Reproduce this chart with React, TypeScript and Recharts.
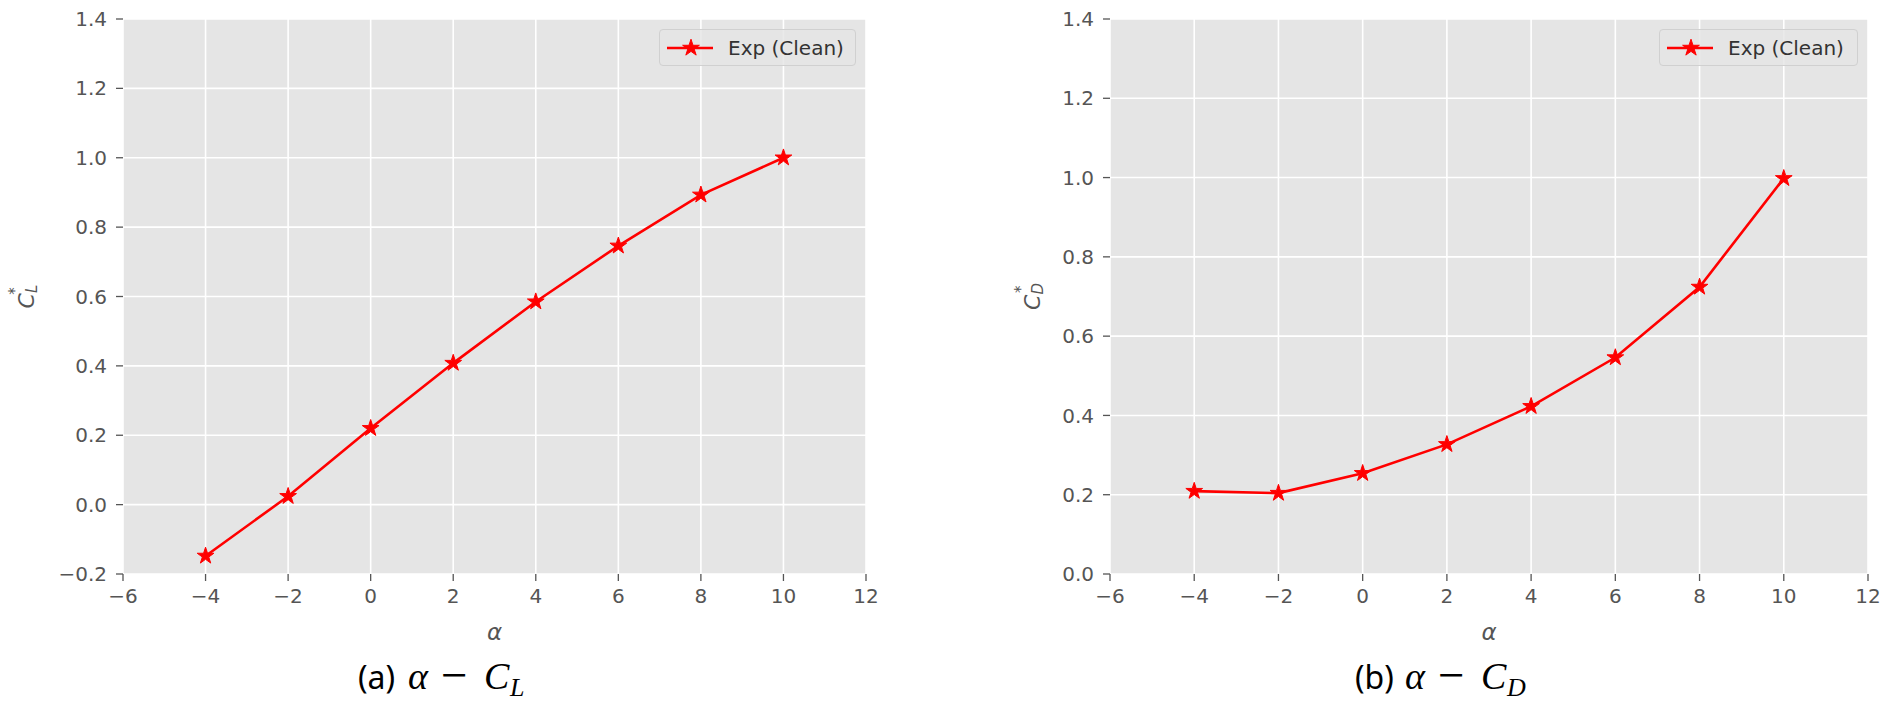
import { CartesianGrid, Legend, Line, LineChart, XAxis, YAxis } from "recharts";

const alpha = [-4, -2, 0, 2, 4, 6, 8, 10];
const liftCoef = [-0.148, 0.024, 0.22, 0.408, 0.585, 0.746, 0.893, 1.0];
const dragCoef = [0.209, 0.204, 0.254, 0.327, 0.423, 0.546, 0.724, 0.998];
const alphaTicks = [-6, -4, -2, 0, 2, 4, 6, 8, 10, 12];
const liftTicks = [-0.2, 0, 0.2, 0.4, 0.6, 0.8, 1.0, 1.2, 1.4];
const dragTicks = [0, 0.2, 0.4, 0.6, 0.8, 1.0, 1.2, 1.4];
const seriesName = "Exp (Clean)";

const RED = "#ff0000";
const TICK = "#555555";
const SANS = "DejaVu Sans";
const SERIF = "Liberation Serif";
const PANEL_W = 946;
const H = 711;

function starPath(cx: number, cy: number, R: number) {
  const r = R * 0.382;
  let d = "";
  for (let i = 0; i < 10; i++) {
    const rad = i % 2 === 0 ? R : r;
    const a = -Math.PI / 2 + (i * Math.PI) / 5;
    d += (i === 0 ? "M" : "L") + (cx + rad * Math.cos(a)).toFixed(2) + "," + (cy + rad * Math.sin(a)).toFixed(2);
  }
  return d + "Z";
}

const minus = (s: string) => s.replace("-", "\u2212");
const fmtX = (v: number) => minus(String(v));
const fmtY = (v: number) => minus(v.toFixed(1));

function Star(props: any) {
  const { cx, cy, index } = props;
  if (cx == null || cy == null) return <g key={index} />;
  return <path key={index} d={starPath(cx, cy, 8.8)} fill={RED} stroke={RED} strokeWidth={1} />;
}

function LegendBox({ payload, width }: any) {
  const label = payload && payload[0] ? payload[0].value : seriesName;
  return (
    <div
      style={{
        width,
        height: 37,
        boxSizing: "border-box",
        border: "1px solid #d0d0d0",
        borderRadius: 4,
        background: "rgba(229,229,229,0.8)",
        display: "flex",
        alignItems: "center",
        fontFamily: SANS,
        fontSize: 20,
        color: "#333",
        whiteSpace: "nowrap",
      }}
    >
      <svg width={68} height={24} style={{ flex: "none" }}>
        <line x1={7} x2={53} y1={12} y2={12} stroke={RED} strokeWidth={2.6} />
        <path d={starPath(31, 12, 8.8)} fill={RED} stroke={RED} strokeWidth={1} />
      </svg>
      <span>{label}</span>
    </div>
  );
}

interface PanelProps {
  values: number[];
  yTicks: number[];
  sub: string;
  tag: string;
  left: number;
  marginLeft: number;
  marginRight: number;
  legendLeft: number;
  legendWidth: number;
  yLabelX: number;
  captionStart: number;
}

function Panel(p: PanelProps) {
  const data = alpha.map((a, i) => ({ alpha: a, value: p.values[i] }));
  const s = p.captionStart;

  const xLabel = (props: any) => {
    const vb = props.viewBox || {};
    const cx = vb.x + vb.width / 2;
    return (
      <g>
        <text x={cx} y={vb.y + 66} textAnchor="middle" fill={TICK} fontFamily={SANS} fontStyle="italic" fontSize={23}>
          α
        </text>
        <text y={689} fill="#000">
          <tspan x={s} fontFamily="Noto Sans" fontSize={32}>({p.tag})</tspan>
          <tspan x={s + 50} fontFamily={SERIF} fontStyle="italic" fontSize={38}>α</tspan>
          <tspan x={s + 83} dy={2} fontFamily={SERIF} fontSize={47}>−</tspan>
          <tspan x={s + 126} dy={-2} fontFamily={SERIF} fontStyle="italic" fontSize={38}>C</tspan>
          <tspan x={s + 152} dy={7} fontFamily={SERIF} fontStyle="italic" fontSize={26}>{p.sub}</tspan>
        </text>
      </g>
    );
  };

  const yLabel = (props: any) => {
    const vb = props.viewBox || {};
    const cy = vb.y + vb.height / 2;
    const x = p.yLabelX;
    return (
      <text
        x={x}
        y={cy}
        transform={`rotate(-90 ${x} ${cy})`}
        textAnchor="middle"
        dominantBaseline="central"
        fill={TICK}
        fontFamily={SANS}
        fontStyle="italic"
        fontSize={22}
      >
        <tspan>C</tspan>
        <tspan fontSize={15} dy={6}>{p.sub}</tspan>
        <tspan fontSize={15} dx={-10} dy={-17}>*</tspan>
      </text>
    );
  };

  return (
    <div style={{ position: "absolute", left: p.left, top: 0, width: PANEL_W, height: H }}>
      <LineChart
        width={PANEL_W}
        height={H}
        data={data}
        margin={{ top: 19, right: p.marginRight, bottom: 77, left: p.marginLeft }}
      >
        <CartesianGrid fill="#E5E5E5" stroke="#ffffff" strokeWidth={1.6} />
        <XAxis
          type="number"
          dataKey="alpha"
          domain={[-6, 12]}
          ticks={alphaTicks}
          tickFormatter={fmtX}
          axisLine={false}
          tickLine={{ stroke: TICK, strokeWidth: 1.3 }}
          tickSize={7}
          tickMargin={8}
          height={60}
          interval={0}
          tick={{ fill: TICK, fontFamily: SANS, fontSize: 20 }}
          label={xLabel}
        />
        <YAxis
          type="number"
          domain={[p.yTicks[0], 1.4]}
          ticks={p.yTicks}
          tickFormatter={fmtY}
          axisLine={false}
          tickLine={{ stroke: TICK, strokeWidth: 1.3 }}
          tickSize={7}
          tickMargin={9}
          width={70}
          interval={0}
          tick={{ fill: TICK, fontFamily: SANS, fontSize: 20 }}
          label={yLabel}
        />
        <Legend
          layout="vertical"
          align="center"
          verticalAlign="middle"
          wrapperStyle={{ top: 29, left: p.legendLeft, width: p.legendWidth }}
          content={(props: any) => <LegendBox payload={props.payload} width={p.legendWidth} />}
        />
        <Line
          type="linear"
          dataKey="value"
          name={seriesName}
          stroke={RED}
          strokeWidth={2.6}
          dot={Star}
          activeDot={false}
          isAnimationActive={false}
        />
      </LineChart>
    </div>
  );
}

export default function App() {
  return (
    <div style={{ position: "absolute", left: 0, top: 0, width: 1892, height: H, background: "#fff" }}>
      <Panel
        values={liftCoef}
        yTicks={liftTicks}
        sub="L"
        tag="a"
        left={0}
        marginLeft={53}
        marginRight={80}
        legendLeft={659}
        legendWidth={197}
        yLabelX={26}
        captionStart={358}
      />
      <Panel
        values={dragCoef}
        yTicks={dragTicks}
        sub="D"
        tag="b"
        left={PANEL_W}
        marginLeft={94}
        marginRight={24}
        legendLeft={713}
        legendWidth={199}
        yLabelX={86}
        captionStart={409}
      />
    </div>
  );
}
